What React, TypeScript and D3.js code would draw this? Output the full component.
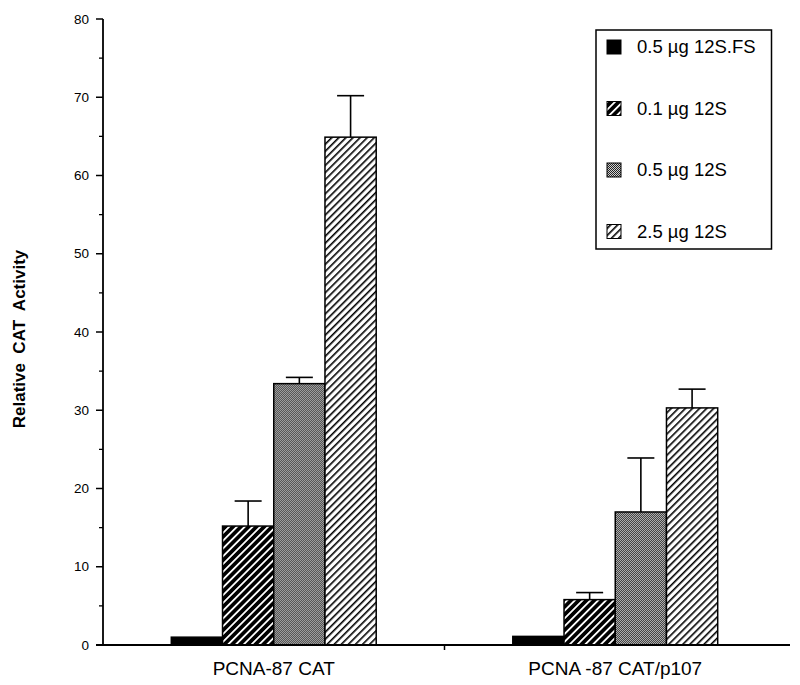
import React from "react";
import * as d3 from "d3";

const categories = ["PCNA-87 CAT", "PCNA -87 CAT/p107"];
const seriesNames = ["0.5 µg 12S.FS", "0.1 µg 12S", "0.5 µg 12S", "2.5 µg 12S"];
// values[categoryIndex][seriesIndex]
const meanValues = [
  [1.0, 15.2, 33.4, 64.9],
  [1.1, 5.8, 17.0, 30.3],
];
const errorTops = [
  [null, 18.4, 34.2, 70.2],
  [null, 6.7, 23.9, 32.7],
];
const yTicks = [0, 10, 20, 30, 40, 50, 60, 70, 80];
const yMinorTicks = [5, 15, 25, 35, 45, 55, 65, 75];
const fills = ["#000", "url(#pDark)", "url(#pGray)", "url(#pLight)"];

export default function App() {
  const W = 800, H = 685;
  const y = d3.scaleLinear().domain([0, 80]).range([645, 19]);
  const x0 = d3.scaleBand<string>().domain(categories).range([103, 786]).paddingInner(0.4).paddingOuter(0.2);
  const x1 = d3.scaleBand<string>().domain(seriesNames.map((s, i) => String(i))).range([0, x0.bandwidth()]).padding(0);
  const font = "'Liberation Sans', Arial, Helvetica, sans-serif";
  const capW = 27;
  const midX = x0(categories[1])! - (x0.step() - x0.bandwidth()) / 2;

  return (
    <svg width={W} height={H} style={{ position: "absolute", left: 0, top: 0, background: "#fff" }} fontFamily={font}>
      <defs>
        <pattern id="pDark" patternUnits="userSpaceOnUse" width={5.5} height={5.5} patternTransform="rotate(45)">
          <rect width={5.5} height={5.5} fill="#000" />
          <rect x={0} y={0} width={1.8} height={5.5} fill="#fff" />
        </pattern>
        <pattern id="pLight" patternUnits="userSpaceOnUse" width={5} height={5} patternTransform="rotate(45)">
          <rect width={5} height={5} fill="#fff" />
          <rect x={0} y={0} width={1.6} height={5} fill="#000" />
        </pattern>
        <pattern id="pGray" patternUnits="userSpaceOnUse" width={2} height={2}>
          <rect width={2} height={2} fill="#d0d0d0" />
          <rect x={0} y={0} width={1} height={1} fill="#222" />
          <rect x={1} y={1} width={1} height={1} fill="#222" />
        </pattern>
      </defs>

      {/* bars */}
      {categories.map((c, ci) => (
        <g key={c} transform={`translate(${x0(c)},0)`}>
          {meanValues[ci].map((v, si) => {
            const bx = x1(String(si))!;
            const bw = x1.bandwidth();
            const e = errorTops[ci][si];
            return (
              <g key={si}>
                <rect x={bx} y={y(v)} width={bw} height={y(0) - y(v)} fill={fills[si]} stroke="#000" strokeWidth={1.5} />
                {e !== null && (
                  <g stroke="#000" strokeWidth={1.6}>
                    <line x1={bx + bw / 2} x2={bx + bw / 2} y1={y(v)} y2={y(e)} />
                    <line x1={bx + bw / 2 - capW / 2} x2={bx + bw / 2 + capW / 2} y1={y(e)} y2={y(e)} />
                  </g>
                )}
              </g>
            );
          })}
        </g>
      ))}

      {/* axes */}
      <line x1={103} x2={103} y1={y(80)} y2={y(0)} stroke="#000" strokeWidth={1.8} />
      <line x1={96} x2={790} y1={y(0)} y2={y(0)} stroke="#000" strokeWidth={1.8} />
      {yTicks.map((t) => (
        <g key={t}>
          <line x1={96} x2={103} y1={y(t)} y2={y(t)} stroke="#000" strokeWidth={1.5} />
          <text x={89} y={y(t)} dy="0.35em" textAnchor="end" fontSize={13.5}>{t}</text>
        </g>
      ))}
      {yMinorTicks.map((t) => (
        <line key={t} x1={99} x2={103} y1={y(t)} y2={y(t)} stroke="#000" strokeWidth={1.3} />
      ))}
      <line x1={midX} x2={midX} y1={y(0)} y2={y(0) + 5} stroke="#000" strokeWidth={1.5} />

      {categories.map((c) => (
        <text key={c} x={x0(c)! + x0.bandwidth() / 2} y={675} textAnchor="middle" fontSize={19}>{c}</text>
      ))}

      <text transform={`translate(25,339) rotate(-90)`} textAnchor="middle" fontSize={17} fontWeight="bold" style={{ whiteSpace: "pre" }}>
        {"Relative  CAT  Activity"}
      </text>

      {/* legend */}
      <rect x={596} y={30} width={175.5} height={219} fill="#fff" stroke="#000" strokeWidth={1.5} />
      {seriesNames.map((s, i) => {
        const ry = 47 + i * 61.5;
        return (
          <g key={s}>
            <rect x={607} y={ry - 7} width={14} height={14} fill={fills[i]} stroke="#000" strokeWidth={1} />
            <text x={637} y={ry} dy="0.35em" fontSize={18.5}>{s}</text>
          </g>
        );
      })}
    </svg>
  );
}
